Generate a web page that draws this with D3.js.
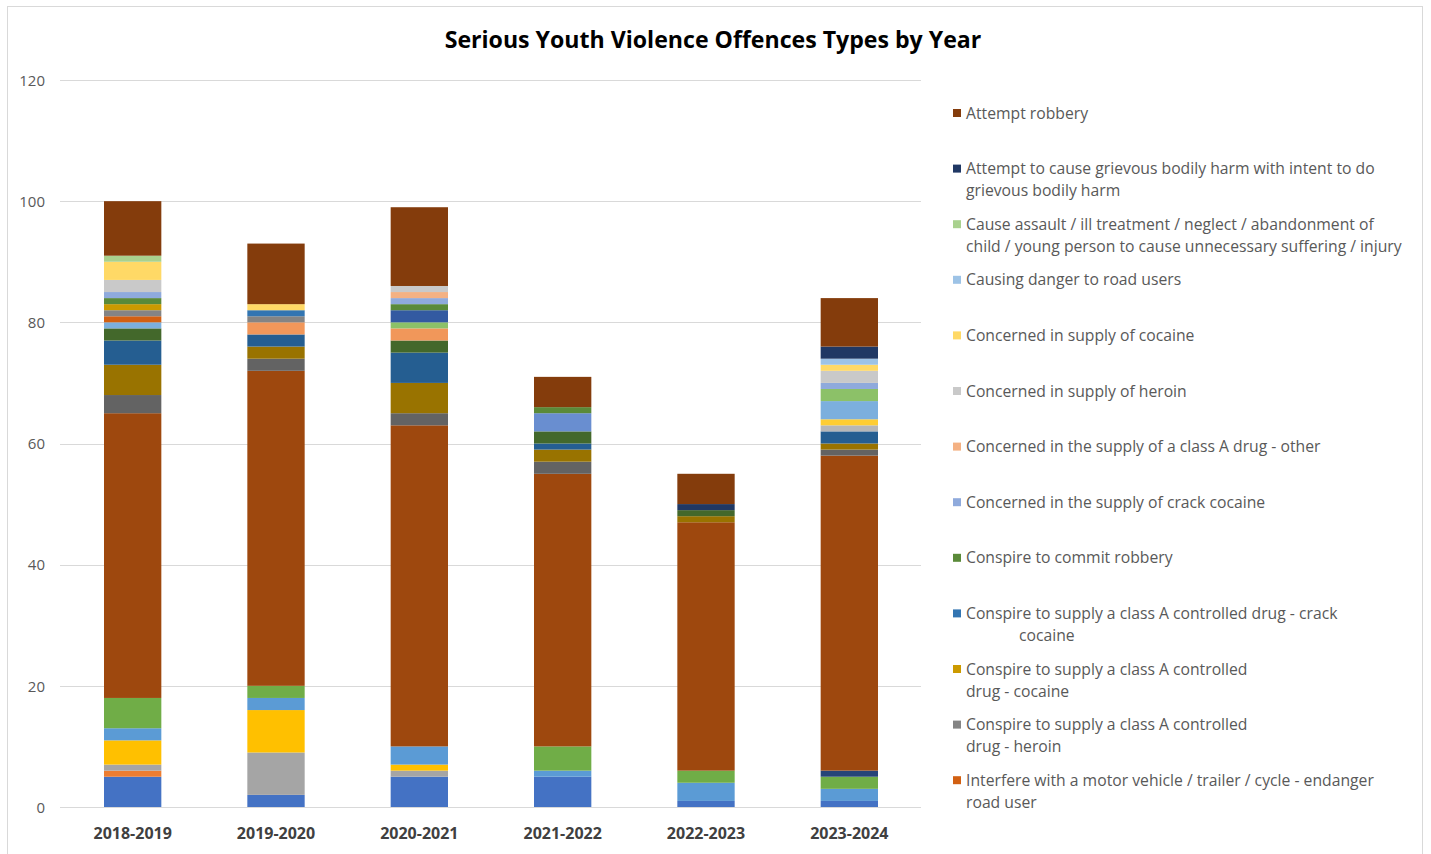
<!DOCTYPE html>
<html>
<head>
<meta charset="utf-8">
<script src="https://cdn.jsdelivr.net/npm/d3@7"></script>
<style>
  html, body { margin: 0; padding: 0; background: #fff; }
  svg { display: block; }
  text { font-family: "Open Sans", "Noto Sans", sans-serif; }
</style>
</head>
<body>
<svg id="chart" width="1431" height="854"></svg>
<script>
// ---------- DATA ----------
const title = "Serious Youth Violence Offences Types by Year";
const categories = ["2018-2019", "2019-2020", "2020-2021", "2021-2022", "2022-2023", "2023-2024"];
const yTicks = [0, 20, 40, 60, 80, 100, 120];

// series listed bottom of stack (1) to top (32)
const seriesNames = [
  "Wounding with intent to do grievous bodily harm",
  "Unlawful wounding",
  "Threats to kill",
  "Supply a controlled drug of Class A - other",
  "Supply a controlled drug of Class A - heroin",
  "Supply a controlled drug of Class A - crack cocaine",
  "Supply a controlled drug of Class A - cocaine",
  "Robbery of personal property",
  "Robbery of business property",
  "Rape",
  "Produce a controlled drug of Class A",
  "Possess firearm with intent to endanger life",
  "Possess a controlled drug of Class A with intent to supply - other",
  "Possess a controlled drug of Class A with intent to supply - heroin",
  "Possess a controlled drug of Class A with intent to supply - crack cocaine",
  "Possess a controlled drug of Class A with intent to supply - cocaine",
  "Murder",
  "Manslaughter",
  "Kidnapping",
  "Interfere with a motor vehicle / trailer / cycle - endanger road user",
  "Conspire to supply a class A controlled drug - heroin",
  "Conspire to supply a class A controlled drug - cocaine",
  "Conspire to supply a class A controlled drug - crack cocaine",
  "Conspire to commit robbery",
  "Concerned in the supply of crack cocaine",
  "Concerned in the supply of a class A drug - other",
  "Concerned in supply of heroin",
  "Concerned in supply of cocaine",
  "Causing danger to road users",
  "Cause assault / ill treatment / neglect / abandonment of child / young person to cause unnecessary suffering / injury",
  "Attempt to cause grievous bodily harm with intent to do grievous bodily harm",
  "Attempt robbery"
];

const seriesColors = [
  "#4472C4", "#ED7D31", "#A5A5A5", "#FFC000", "#5B9BD5", "#70AD47",
  "#264478", "#9E480E", "#636363", "#997300", "#255E91", "#43682B",
  "#698ED0", "#F1975A", "#B7B7B7", "#FFCD33", "#7CAFDD", "#8CC168",
  "#335AA1", "#D26012", "#848484", "#CC9A00", "#3275B2", "#5A8A39",
  "#8FAADC", "#F4B183", "#C9C9C9", "#FFD966", "#9DC3E6", "#A9D18E",
  "#203864", "#843C0C"
];

// values per series (same order as seriesNames), one per category
const seriesValues = [
  [5, 2, 5, 5, 1, 1],
  [1, 0, 0, 0, 0, 0],
  [1, 7, 1, 0, 0, 0],
  [4, 7, 1, 0, 0, 0],
  [2, 2, 3, 1, 3, 2],
  [5, 2, 0, 4, 2, 2],
  [0, 0, 0, 0, 0, 1],
  [47, 52, 53, 45, 41, 52],
  [3, 2, 2, 2, 0, 1],
  [5, 2, 5, 2, 1, 1],
  [4, 2, 5, 1, 0, 2],
  [2, 0, 2, 2, 1, 0],
  [0, 0, 0, 3, 0, 0],
  [0, 2, 2, 0, 0, 0],
  [0, 0, 0, 0, 0, 1],
  [0, 0, 0, 0, 0, 1],
  [1, 0, 0, 0, 0, 3],
  [0, 0, 1, 0, 0, 2],
  [0, 0, 2, 0, 0, 0],
  [1, 0, 0, 0, 0, 0],
  [1, 1, 0, 0, 0, 0],
  [1, 0, 0, 0, 0, 0],
  [0, 1, 0, 0, 0, 0],
  [1, 0, 1, 1, 0, 0],
  [1, 0, 1, 0, 0, 1],
  [0, 0, 1, 0, 0, 0],
  [2, 0, 1, 0, 0, 2],
  [3, 1, 0, 0, 0, 1],
  [0, 0, 0, 0, 0, 1],
  [1, 0, 0, 0, 0, 0],
  [0, 0, 0, 0, 1, 2],
  [9, 10, 13, 5, 5, 8]
];

// visible legend entries (top of stack first), as wrapped lines
const legendIndices = [31, 30, 29, 28, 27, 26, 25, 24, 23, 22, 21, 20, 19];
const legendLines = [
  ["Attempt robbery"],
  ["Attempt to cause grievous bodily harm with intent to do", "grievous bodily harm"],
  ["Cause assault / ill treatment / neglect / abandonment of", "child / young person to cause unnecessary suffering / injury"],
  ["Causing danger to road users"],
  ["Concerned in supply of cocaine"],
  ["Concerned in supply of heroin"],
  ["Concerned in the supply of a class A drug - other"],
  ["Concerned in the supply of crack cocaine"],
  ["Conspire to commit robbery"],
  ["Conspire to supply a class A controlled drug - crack", "cocaine"],
  ["Conspire to supply a class A controlled", "drug - cocaine"],
  ["Conspire to supply a class A controlled", "drug - heroin"],
  ["Interfere with a motor vehicle / trailer / cycle - endanger", "road user"]
];
const legendSecondLineIndent = [0, 0, 0, 0, 0, 0, 0, 0, 0, 53, 0, 0, 0];

// ---------- CHART ----------
const svg = d3.select("#chart");
const plot = { left: 61, right: 921, top: 80, bottom: 807 };

svg.append("rect")
  .attr("x", 7.5).attr("y", 6.5).attr("width", 1415).attr("height", 860)
  .attr("fill", "#fff").attr("stroke", "#D9D9D9").attr("stroke-width", 1);

const x = d3.scaleBand().domain(categories).range([plot.left, plot.right]).padding(0);
const y = d3.scaleLinear().domain([0, 120]).range([plot.bottom, plot.top]);
const barW = x.bandwidth() * 0.4;

// gridlines
svg.append("g")
  .selectAll("line").data(yTicks).join("line")
  .attr("x1", plot.left - 1).attr("x2", plot.right)
  .attr("y1", d => Math.round(y(d)) + 0.5).attr("y2", d => Math.round(y(d)) + 0.5)
  .attr("stroke", "#D9D9D9").attr("stroke-width", 1);

// y axis labels
const yAxis = d3.axisLeft(y).tickValues(yTicks).tickSize(0).tickPadding(0);
const yg = svg.append("g").attr("transform", `translate(45,0)`).call(yAxis);
yg.select(".domain").remove();
yg.selectAll("text").attr("fill", "#595959").style("font-size", "15px")
  .style("font-family", "'Open Sans', sans-serif").attr("dy", "0.35em");

// stack
const table = categories.map((c, i) => {
  const row = { cat: c };
  seriesNames.forEach((n, s) => row["s" + s] = seriesValues[s][i]);
  return row;
});
const keys = seriesNames.map((n, s) => "s" + s);
const stacked = d3.stack().keys(keys)(table);

const layers = svg.append("g").selectAll("g").data(stacked).join("g")
  .attr("fill", (d, i) => seriesColors[i]);
layers.selectAll("rect").data(d => d.filter(p => p[1] - p[0] > 0)).join("rect")
  .attr("x", d => x(d.data.cat) + (x.bandwidth() - barW) / 2)
  .attr("width", barW)
  .attr("y", d => y(d[1]))
  .attr("height", d => y(d[0]) - y(d[1]));

// x axis
svg.append("line").attr("x1", plot.left - 1).attr("x2", plot.right)
  .attr("y1", plot.bottom + 0.5).attr("y2", plot.bottom + 0.5)
  .attr("stroke", "#D9D9D9");
const xAxis = d3.axisBottom(x).tickSize(0).tickPadding(0);
const xg = svg.append("g").attr("transform", `translate(0,${plot.bottom + 26})`).call(xAxis);
xg.select(".domain").remove();
xg.selectAll("text").attr("fill", "#404040").style("font-size", "16px")
  .style("font-weight", "bold").attr("dy", "0.35em")
  .style("font-family", "'Open Sans', sans-serif");

// title
const t = svg.append("text").attr("x", 713).attr("y", 40)
  .attr("text-anchor", "middle").attr("dy", "0.35em")
  .style("font-size", "22px").style("font-weight", "bold").attr("fill", "#000")
  .text(title);
(function fit() {
  const w = t.node().getComputedTextLength();
  t.style("font-size", (22 * 537 / w) + "px");
})();

// legend
const lg = svg.append("g");
const lx = 953, ly0 = 113, lstep = 55.6, lineH = 22;
const legendFont = 15;
legendIndices.forEach((si, k) => {
  const yy = ly0 + k * lstep;
  lg.append("rect").attr("x", lx).attr("y", yy - 4).attr("width", 8).attr("height", 8)
    .attr("fill", seriesColors[si]);
  legendLines[k].forEach((ln, j) => {
    lg.append("text").attr("class", "lt")
      .attr("x", 966 + (j > 0 ? legendSecondLineIndent[k] : 0))
      .attr("y", yy + j * lineH).attr("dy", "0.35em")
      .attr("fill", "#595959").style("font-size", legendFont + "px")
      .text(ln);
  });
});
// fit legend font to widest line (~436px)
(function fitLegend() {
  let maxW = 0;
  lg.selectAll("text.lt").each(function () { maxW = Math.max(maxW, this.getComputedTextLength()); });
  const fs = legendFont * 436 / maxW;
  lg.selectAll("text.lt").style("font-size", fs + "px");
})();
</script>
</body>
</html>
